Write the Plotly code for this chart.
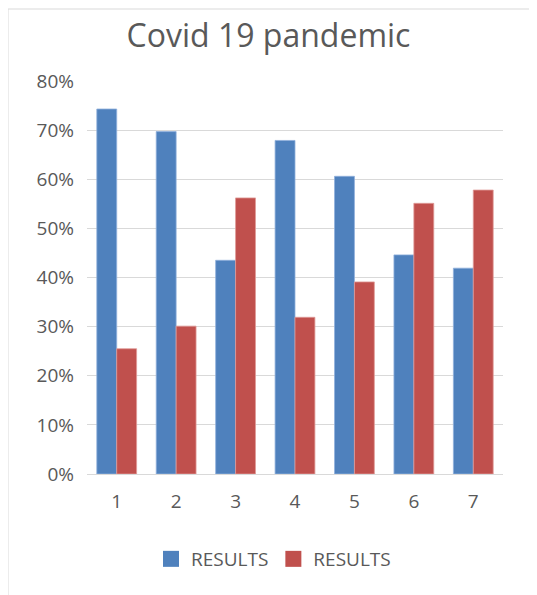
import plotly.graph_objects as go

categories = ["1", "2", "3", "4", "5", "6", "7"]
series_a = [0.743, 0.697, 0.435, 0.679, 0.606, 0.446, 0.419]
series_b = [0.255, 0.301, 0.562, 0.319, 0.391, 0.551, 0.578]
series_names = ["RESULTS", "RESULTS"]
title_text = "Covid 19 pandemic"

FONT = "Open Sans"
GREY = "#595959"
BLUE = "#4f81bd"
RED = "#c0504d"

OFF = 8  # page body margin
FW, FH = 537 - OFF, 595 - OFF
# plot area in reference pixels
L, R, T, B = 87, 503, 81, 474
W, H = R - L, B - T

def px_x(px):
    return (px - L) / W

def px_y(py):
    return (B - py) / H

fig = go.Figure()
fig.add_trace(go.Bar(x=categories, y=series_a, name=series_names[0], showlegend=False,
                     marker=dict(color=BLUE, line=dict(color="#8fb0dc", width=0.8))))
fig.add_trace(go.Bar(x=categories, y=series_b, name=series_names[1], showlegend=False,
                     marker=dict(color=RED, line=dict(color="#e09a98", width=0.8))))
# legend entries with larger square swatches
for nm, col in zip(series_names, [BLUE, RED]):
    fig.add_trace(go.Scatter(x=[None], y=[None], mode="markers", name=nm,
                             marker=dict(symbol="square", size=16, color=col)))

fig.update_layout(
    width=FW, height=FH,
    margin=dict(l=L - OFF, r=537 - R, t=T - OFF, b=595 - B),
    paper_bgcolor="white", plot_bgcolor="white",
    barmode="group", bargap=0.33, bargroupgap=0,
    font=dict(family=FONT, color=GREY, size=19),
    title=dict(text=title_text, x=(268.5 - OFF) / FW, xref="container", xanchor="center",
               y=1 - (36 - OFF) / FH, yref="container", yanchor="middle",
               font=dict(size=32, color=GREY, family=FONT)),
    showlegend=True,
    legend=dict(orientation="h", x=px_x(151), xanchor="left", y=px_y(559), yanchor="middle",
                font=dict(size=19, color=GREY), itemwidth=30, tracegroupgap=0),
    xaxis=dict(type="category", showgrid=False, showline=False, ticks="",
               tickfont=dict(size=19, color=GREY), ticklabelstandoff=14),
    yaxis=dict(range=[0, 0.8], dtick=0.1, tickformat=".0%", showgrid=True,
               gridcolor="#d9d9d9", gridwidth=1.3, zeroline=True, zerolinecolor="#d9d9d9",
               zerolinewidth=1.3, showline=False, ticks="",
               tickfont=dict(size=19, color=GREY), ticklabelstandoff=12),
    shapes=[dict(type="rect", xref="paper", yref="paper",
                 x0=px_x(8), x1=px_x(560), y0=px_y(620), y1=px_y(9),
                 line=dict(color="#d9d9d9", width=1), fillcolor="rgba(0,0,0,0)", layer="below")],
)

fig.write_html("out.html")
